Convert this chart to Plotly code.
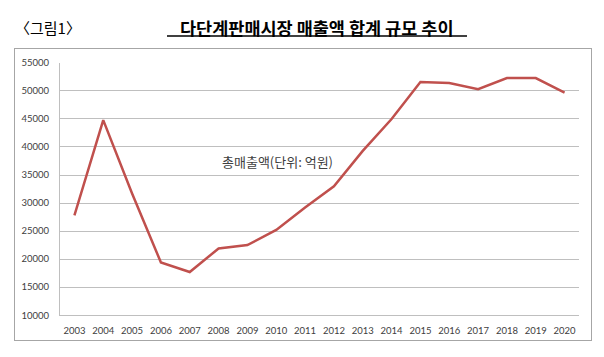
import plotly.graph_objects as go

years = [str(y) for y in range(2003, 2021)]
sales = [27800, 44800, 31700, 19400, 17700, 21900, 22500, 25200, 29200,
         33000, 39300, 45000, 51600, 51400, 50300, 52300, 52300, 49700]
y_ticks = [10000, 15000, 20000, 25000, 30000, 35000, 40000, 45000, 50000, 55000]
y_tick_labels = [str(v) for v in y_ticks]

W, H = 604, 357
# margins enclose the outer frame; the axes sit inside via domains
FL, FR, FT, FB = 15, 591, 49, 342
fw, fh = FR - FL, FB - FT

def px_x(px):
    return (px - FL) / fw

def px_y(py):
    return (FB - py) / fh

fig = go.Figure()
# invisible helper trace so the frame subplot (x2/y2) is drawn
fig.add_trace(go.Scatter(
    x=[0], y=[0], xaxis="x2", yaxis="y2", mode="markers",
    marker=dict(opacity=0), showlegend=False, hoverinfo="skip",
))
fig.add_trace(go.Scatter(
    x=years, y=sales, mode="lines",
    line=dict(color="#c0504d", width=2.5),
    showlegend=False, hoverinfo="skip",
))

fig.update_layout(
    width=W, height=H, autosize=False,
    margin=dict(l=FL, r=W - FR, t=FT, b=H - FB),
    paper_bgcolor="white", plot_bgcolor="rgba(0,0,0,0)",
    font=dict(family="Lato", color="#404040"),
    xaxis=dict(
        domain=[px_x(60), px_x(579)],
        type="category", range=[-0.5, len(years) - 0.5],
        showgrid=False, showline=True,
        linecolor="#bfbfbf", linewidth=1.3, ticks="",
        tickfont=dict(size=9.5, color="#404040", family="Lato"),
        ticklabelstandoff=6, fixedrange=True,
    ),
    yaxis=dict(
        domain=[px_y(317), px_y(63)],
        range=[10000, 55000], tickvals=y_ticks, ticktext=y_tick_labels,
        showgrid=True, gridcolor="#bfbfbf", gridwidth=1.3,
        showline=True, linecolor="#bfbfbf", linewidth=1.3,
        zeroline=False, ticks="",
        tickfont=dict(size=9.5, color="#404040", family="Lato"),
        ticklabelstandoff=8, fixedrange=True,
    ),
    # frame axes covering the whole framed area
    xaxis2=dict(
        domain=[0, 1], anchor="y2", range=[0, 1],
        showline=True, mirror=True, linecolor="#a6a6a6", linewidth=1,
        showgrid=False, zeroline=False, showticklabels=False, ticks="",
        fixedrange=True,
    ),
    yaxis2=dict(
        domain=[0, 1], anchor="x2", range=[0, 1],
        showline=True, mirror=True, linecolor="#a6a6a6", linewidth=1,
        showgrid=False, zeroline=False, showticklabels=False, ticks="",
        fixedrange=True,
    ),
)

# titles
fig.add_annotation(text="〈그림1〉", xref="paper", yref="paper",
                   x=px_x(13), y=px_y(27), xanchor="left", yanchor="middle",
                   showarrow=False,
                   font=dict(family="Noto Sans CJK KR", size=15, color="#000000"))
fig.add_annotation(text="<b>다단계판매시장 매출액 합계 규모 추이</b>", xref="paper", yref="paper",
                   x=px_x(317), y=px_y(27), xanchor="center", yanchor="middle",
                   showarrow=False,
                   font=dict(family="Noto Sans CJK KR", size=17.5, color="#000000", weight=700))
fig.add_shape(type="line", xref="paper", yref="paper",
              x0=px_x(167), x1=px_x(467), y0=px_y(36), y1=px_y(36),
              line=dict(color="#000000", width=1.5))

fig.add_annotation(text="총매출액(단위: 억원)", xref="paper", yref="paper",
                   x=px_x(277), y=px_y(162), xanchor="center", yanchor="middle",
                   showarrow=False,
                   font=dict(family="Noto Sans CJK KR", size=13, color="#404040"))

fig.write_html("out.html", config={"displayModeBar": False},
               post_script="document.body.style.margin='0';document.body.style.overflow='hidden';")
